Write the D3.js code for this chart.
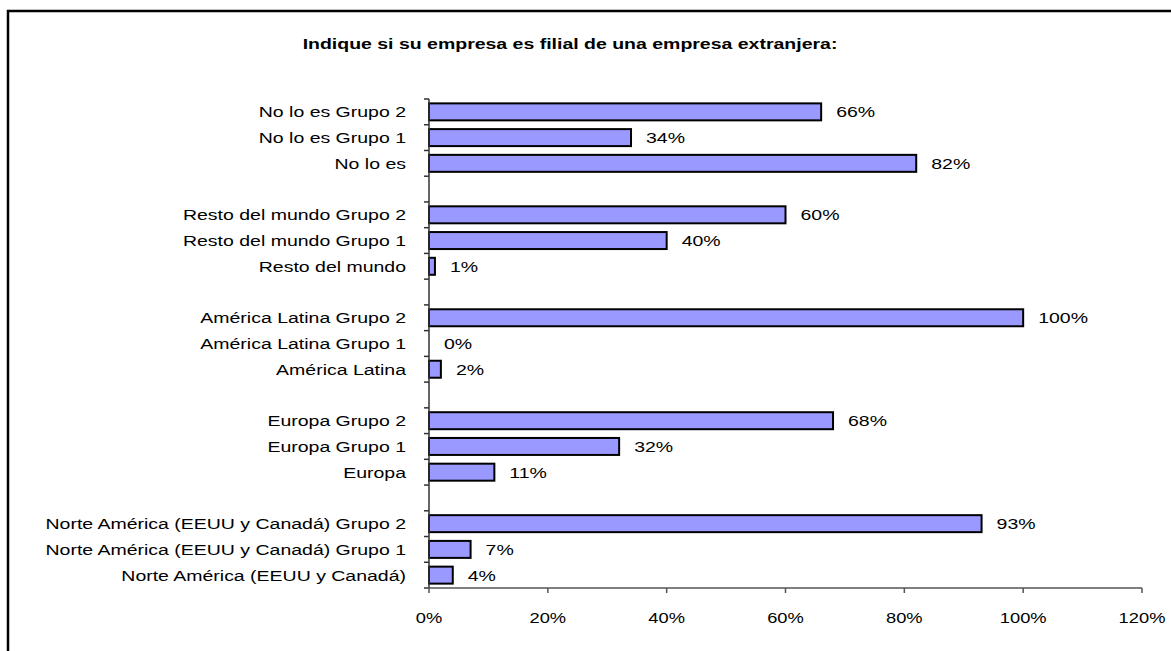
<!DOCTYPE html>
<html>
<head>
<meta charset="utf-8">
<script src="https://cdn.jsdelivr.net/npm/d3@7"></script>
<style>
  html, body { margin: 0; padding: 0; background: #fff; }
  svg { display: block; }
  text { font-family: "Liberation Sans", Arial, sans-serif; fill: #000; }
</style>
</head>
<body>
<svg id="chart" width="1171" height="651"></svg>
<script>
// Categories from top to bottom; blank strings are spacer rows between groups
const categories = [
  "No lo es Grupo 2", "No lo es Grupo 1", "No lo es", "",
  "Resto del mundo Grupo 2", "Resto del mundo Grupo 1", "Resto del mundo", " ",
  "América Latina Grupo 2", "América Latina Grupo 1", "América Latina", "  ",
  "Europa Grupo 2", "Europa Grupo 1", "Europa", "   ",
  "Norte América (EEUU y Canadá) Grupo 2", "Norte América (EEUU y Canadá) Grupo 1", "Norte América (EEUU y Canadá)"
];
// Share (%) per category; null for spacer rows
const values = [
  66, 34, 82, null,
  60, 40, 1, null,
  100, 0, 2, null,
  68, 32, 11, null,
  93, 7, 4
];
const xTicks = [0, 20, 40, 60, 80, 100, 120];
const title = "Indique si su empresa es filial de una empresa extranjera:";

const svg = d3.select("#chart");
const STRETCH = 1.3;   // wide horizontal text proportion
const place = (sx) => (x, y) => `translate(${x},${y}) scale(${sx},1)`;
const wide = place(STRETCH);

// outer frame (only top and left edges fall inside the view)
svg.append("rect")
  .attr("x", 8).attr("y", 11)
  .attr("width", 1200).attr("height", 700)
  .attr("fill", "none").attr("stroke", "#000").attr("stroke-width", 2.5);

const plotLeft = 429, plotRight = 1142, plotTop = 99, plotBottom = 588;

const x = d3.scaleLinear().domain([0, 120]).range([plotLeft, plotRight]);
const y = d3.scaleBand().domain(categories).range([plotTop, plotBottom]).paddingInner(0.34).paddingOuter(0.17);
const band = d3.scaleBand().domain(categories).range([plotTop, plotBottom]);

// title
svg.append("text")
  .attr("transform", wide(570, 49))
  .attr("text-anchor", "middle")
  .style("font-size", "15px").style("font-weight", "bold")
  .text(title);

// bars
const rows = categories.map((c, i) => ({ c, v: values[i] })).filter(d => d.v !== null);
svg.append("g").selectAll("rect")
  .data(rows.filter(d => d.v > 0))
  .join("rect")
  .attr("x", x(0))
  .attr("y", d => y(d.c))
  .attr("width", d => x(d.v) - x(0))
  .attr("height", y.bandwidth())
  .attr("fill", "#9999FF")
  .attr("stroke", "#000")
  .attr("stroke-width", 2);

// value labels
svg.append("g").selectAll("text")
  .data(rows)
  .join("text")
  .attr("transform", d => wide(x(d.v) + 15, y(d.c) + y.bandwidth() / 2))
  .attr("dy", "0.36em")
  .style("font-size", "15px")
  .attr("fill", "#111")
  .text(d => d.v + "%");

// y axis: line, boundary ticks, labels
const yAxis = svg.append("g");
yAxis.append("line")
  .attr("x1", plotLeft).attr("x2", plotLeft).attr("y1", plotTop).attr("y2", plotBottom)
  .attr("stroke", "#333").attr("stroke-width", 1.5);
const bounds = categories.map(c => band(c)).concat([plotBottom]);
yAxis.selectAll("line.tick")
  .data(bounds)
  .join("line").attr("class", "tick")
  .attr("x1", plotLeft - 5).attr("x2", plotLeft)
  .attr("y1", d => d).attr("y2", d => d)
  .attr("stroke", "#333").attr("stroke-width", 1.5);
yAxis.selectAll("text")
  .data(categories.filter(c => c.trim() !== ""))
  .join("text")
  .attr("transform", d => wide(406, band(d) + band.bandwidth() / 2))
  .attr("dy", "0.36em")
  .attr("text-anchor", "end")
  .style("font-size", "15px")
  .attr("fill", "#111")
  .text(d => d);

// x axis
const xAxis = svg.append("g");
xAxis.append("line")
  .attr("x1", plotLeft).attr("x2", plotRight).attr("y1", plotBottom).attr("y2", plotBottom)
  .attr("stroke", "#555").attr("stroke-width", 1.5);
xAxis.selectAll("line.tick")
  .data(xTicks)
  .join("line").attr("class", "tick")
  .attr("x1", d => x(d)).attr("x2", d => x(d))
  .attr("y1", plotBottom).attr("y2", plotBottom + 5)
  .attr("stroke", "#555").attr("stroke-width", 1.5);
xAxis.selectAll("text")
  .data(xTicks)
  .join("text")
  .attr("transform", d => place(1.22)(x(d), 623))
  .attr("text-anchor", "middle")
  .style("font-size", "15px")
  .attr("fill", "#111")
  .text(d => d + "%");
</script>
</body>
</html>
